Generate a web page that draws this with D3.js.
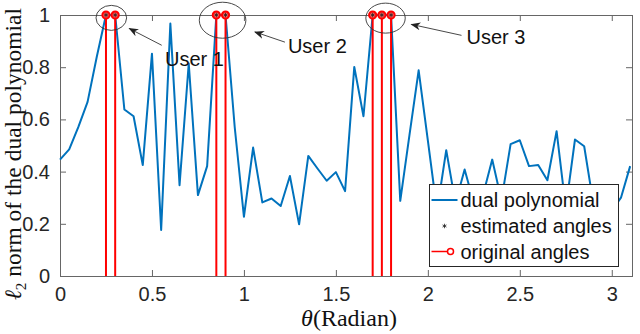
<!DOCTYPE html>
<html>
<head>
<meta charset="utf-8">
<script src="https://cdn.jsdelivr.net/npm/d3@7"></script>
<style>
  body { margin: 0; background: #fff; }
  svg { display: block; }
  .tick text { font-family: Arial, "Liberation Sans", sans-serif; font-size: 20px; fill: #262626; }
</style>
</head>
<body>
<svg id="vis" width="640" height="334"></svg>
<script>
// sample angles (rad) and dual polynomial norm
const thetaSamples = [0, 0.05, 0.1, 0.15, 0.2, 0.25, 0.3, 0.35, 0.4, 0.45,
  0.5, 0.55, 0.6, 0.65, 0.7, 0.75, 0.8, 0.85, 0.9, 0.95,
  1.0, 1.05, 1.1, 1.15, 1.2, 1.25, 1.3, 1.35, 1.4, 1.45,
  1.5, 1.55, 1.6, 1.65, 1.7, 1.75, 1.8, 1.85, 1.9, 1.95,
  2.0, 2.05, 2.1, 2.15, 2.2, 2.25, 2.3, 2.35, 2.4, 2.45,
  2.5, 2.55, 2.6, 2.65, 2.7, 2.75, 2.8, 2.85, 2.9, 2.95,
  3.0, 3.05, 3.1];
const dualNorm = [0.446, 0.485, 0.571, 0.667, 0.84, 1.0, 1.0, 0.638, 0.612, 0.425,
  0.852, 0.176, 0.967, 0.348, 0.814, 0.31, 0.421, 1.0, 1.0, 0.57,
  0.227, 0.492, 0.282, 0.297, 0.268, 0.383, 0.198, 0.46, 0.412, 0.365,
  0.398, 0.325, 0.801, 0.612, 1.0, 1.0, 1.0, 0.288, 0.54, 0.788,
  0.52, 0.25, 0.482, 0.28, 0.408, 0.28, 0.31, 0.446, 0.29, 0.505,
  0.52, 0.421, 0.425, 0.367, 0.555, 0.26, 0.523, 0.497, 0.277, 0.2,
  0.25, 0.30, 0.421];

const originalAngles = [0.25, 0.3, 0.85, 0.9, 1.7, 1.75, 1.8];
const estimatedAngles = [0.25, 0.3, 0.85, 0.9, 1.7, 1.75, 1.8];

const xTicks = [0, 0.5, 1, 1.5, 2, 2.5, 3];
const xTickLabels = ["0", "0.5", "1", "1.5", "2", "2.5", "3"];
const yTicks = [0, 0.2, 0.4, 0.6, 0.8, 1];
const yTickLabels = ["0", "0.2", "0.4", "0.6", "0.8", "1"];

const legendLabels = ["dual polynomial", "estimated angles", "original angles"];

// annotations (data units): ellipse centre, arrow head, arrow tail, text anchor
const userLabels = ["User 1", "User 2", "User 3"];
const ellipseCenters = [[0.279, 0.989], [0.884, 0.98], [1.77, 0.988]];
const arrowHeads = [[0.377, 0.948], [1.06, 0.935], [1.911, 0.964]];
const arrowTails = [[0.553, 0.884], [1.223, 0.896], [2.183, 0.922]];
const textAnchors = [[0.571, 0.8325], [1.239, 0.88], [2.21, 0.915]];

const ellipseRadii = [[15.3, 12.5], [23.3, 18], [19.7, 15]];

const svg = d3.select("#vis");
const margin = {top: 15, right: 8, bottom: 58, left: 60};
const width = 640 - margin.left - margin.right,
      height = 334 - margin.top - margin.bottom;

const x = d3.scaleLinear().domain([0, 3.11]).range([margin.left, margin.left + width]);
const y = d3.scaleLinear().domain([0, 1]).range([margin.top + height, margin.top]);

const blue = "#0072BD";
const red = "#FF0000";

// axes with inward ticks, box on
const tickLen = 6;
svg.append("g")
  .attr("transform", "translate(0," + (margin.top + height) + ")")
  .call(d3.axisBottom(x).tickValues(xTicks).tickFormat((d, i) => xTickLabels[i])
    .tickSizeInner(-tickLen).tickSizeOuter(0).tickPadding(11))
  .call(g => g.select(".domain").remove());
svg.append("g")
  .attr("transform", "translate(" + margin.left + ",0)")
  .call(d3.axisLeft(y).tickValues(yTicks).tickFormat((d, i) => yTickLabels[i])
    .tickSizeInner(-tickLen).tickSizeOuter(0).tickPadding(10))
  .call(g => g.select(".domain").remove());
svg.append("g")
  .attr("transform", "translate(0," + margin.top + ")")
  .call(d3.axisTop(x).tickValues(xTicks).tickFormat("").tickSizeInner(-tickLen).tickSizeOuter(0))
  .call(g => g.select(".domain").remove());
svg.append("g")
  .attr("transform", "translate(" + (margin.left + width) + ",0)")
  .call(d3.axisRight(y).tickValues(yTicks).tickFormat("").tickSizeInner(-tickLen).tickSizeOuter(0))
  .call(g => g.select(".domain").remove());
svg.selectAll(".tick line").attr("stroke", "#666");

svg.append("rect")
  .attr("x", margin.left + 0.5).attr("y", margin.top + 0.5)
  .attr("width", width).attr("height", height)
  .attr("fill", "none").attr("stroke", "#666").attr("stroke-width", 1);

// dual polynomial
const line = d3.line().x((d, i) => x(thetaSamples[i])).y(d => y(d));
svg.append("path")
  .datum(dualNorm)
  .attr("d", line)
  .attr("fill", "none")
  .attr("stroke", blue)
  .attr("stroke-width", 2)
  .attr("stroke-linejoin", "round");

// original angles (stems)
svg.selectAll(".stem")
  .data(originalAngles)
  .enter()
  .append("line")
  .attr("class", "stem")
  .attr("x1", d => x(d)).attr("x2", d => x(d))
  .attr("y1", y(0)).attr("y2", y(1))
  .attr("stroke", red).attr("stroke-width", 2);
svg.selectAll(".stemHead")
  .data(originalAngles)
  .enter()
  .append("circle")
  .attr("cx", d => x(d)).attr("cy", y(1))
  .attr("r", 3.6)
  .attr("fill", "#ff6060")
  .attr("stroke", red).attr("stroke-width", 2);

// estimated angles (asterisks)
const star = d3.symbol().type(d3.symbolAsterisk).size(14);
svg.selectAll(".est")
  .data(estimatedAngles)
  .enter()
  .append("path")
  .attr("class", "est")
  .attr("transform", d => "translate(" + x(d) + "," + y(1) + ")")
  .attr("d", star)
  .attr("fill", "none")
  .attr("stroke", "#222").attr("stroke-width", 0.8);

// ellipses + text arrows
svg.append("defs").append("marker")
  .attr("id", "head")
  .attr("viewBox", "0 0 10 10")
  .attr("refX", 9).attr("refY", 5)
  .attr("markerWidth", 10).attr("markerHeight", 10)
  .attr("markerUnits", "userSpaceOnUse")
  .attr("orient", "auto")
  .append("path")
  .attr("d", "M0,1 L10,5 L0,9 L3,5 Z")
  .attr("fill", "#222");

userLabels.forEach((lab, i) => {
  svg.append("ellipse")
    .attr("cx", x(ellipseCenters[i][0])).attr("cy", y(ellipseCenters[i][1]))
    .attr("rx", ellipseRadii[i][0]).attr("ry", ellipseRadii[i][1])
    .attr("fill", "none").attr("stroke", "#333").attr("stroke-width", 0.9);
  svg.append("line")
    .attr("x1", x(arrowTails[i][0])).attr("y1", y(arrowTails[i][1]))
    .attr("x2", x(arrowHeads[i][0])).attr("y2", y(arrowHeads[i][1]))
    .attr("stroke", "#333").attr("stroke-width", 0.9)
    .attr("marker-end", "url(#head)");
  svg.append("text")
    .attr("x", x(textAnchors[i][0])).attr("y", y(textAnchors[i][1]))
    .attr("dy", "0.35em")
    .attr("font-family", "Arial, 'Liberation Sans', sans-serif")
    .attr("font-size", 20)
    .attr("fill", "#111")
    .text(lab);
});

// legend
const lg = svg.append("g").attr("transform", "translate(429.5,184.5)");
lg.append("rect")
  .attr("width", 189).attr("height", 82)
  .attr("fill", "#fff").attr("stroke", "#262626").attr("stroke-width", 1);
const rowY = [15.5, 41.5, 67];
lg.append("line").attr("x1", 2).attr("x2", 28).attr("y1", rowY[0]).attr("y2", rowY[0])
  .attr("stroke", blue).attr("stroke-width", 2);
lg.append("path").attr("transform", "translate(15," + rowY[1] + ")")
  .attr("d", star).attr("fill", "none").attr("stroke", "#222").attr("stroke-width", 0.8);
lg.append("line").attr("x1", 2).attr("x2", 18).attr("y1", rowY[2]).attr("y2", rowY[2])
  .attr("stroke", red).attr("stroke-width", 1.5);
lg.append("circle").attr("cx", 21).attr("cy", rowY[2]).attr("r", 3)
  .attr("fill", "#fff").attr("stroke", red).attr("stroke-width", 1.5);
lg.selectAll(".lgText")
  .data(legendLabels)
  .enter()
  .append("text")
  .attr("x", 31)
  .attr("y", (d, i) => rowY[i])
  .attr("dy", "0.35em")
  .attr("font-family", "Arial, 'Liberation Sans', sans-serif")
  .attr("font-size", 20)
  .attr("fill", "#111")
  .text(d => d);

// axis labels
svg.append("text")
  .attr("x", 349).attr("y", 326)
  .attr("text-anchor", "middle")
  .attr("font-family", "'Liberation Serif', 'DejaVu Serif', serif")
  .attr("font-size", 24)
  .attr("fill", "#111")
  .call(t => {
    t.append("tspan").attr("font-style", "italic").text("θ");
    t.append("tspan").text("(Radian)");
  });

svg.append("text")
  .attr("transform", "translate(21,154) rotate(-90)")
  .attr("text-anchor", "middle")
  .attr("font-family", "'Liberation Serif', 'DejaVu Serif', serif")
  .attr("font-size", 23.5)
  .attr("fill", "#111")
  .call(t => {
    t.append("tspan").attr("font-style", "italic").text("ℓ");
    t.append("tspan").attr("font-size", 15).attr("dy", 5).text("2");
    t.append("tspan").attr("dy", -5).text(" norm of the dual polynomial");
  });
</script>
</body>
</html>
